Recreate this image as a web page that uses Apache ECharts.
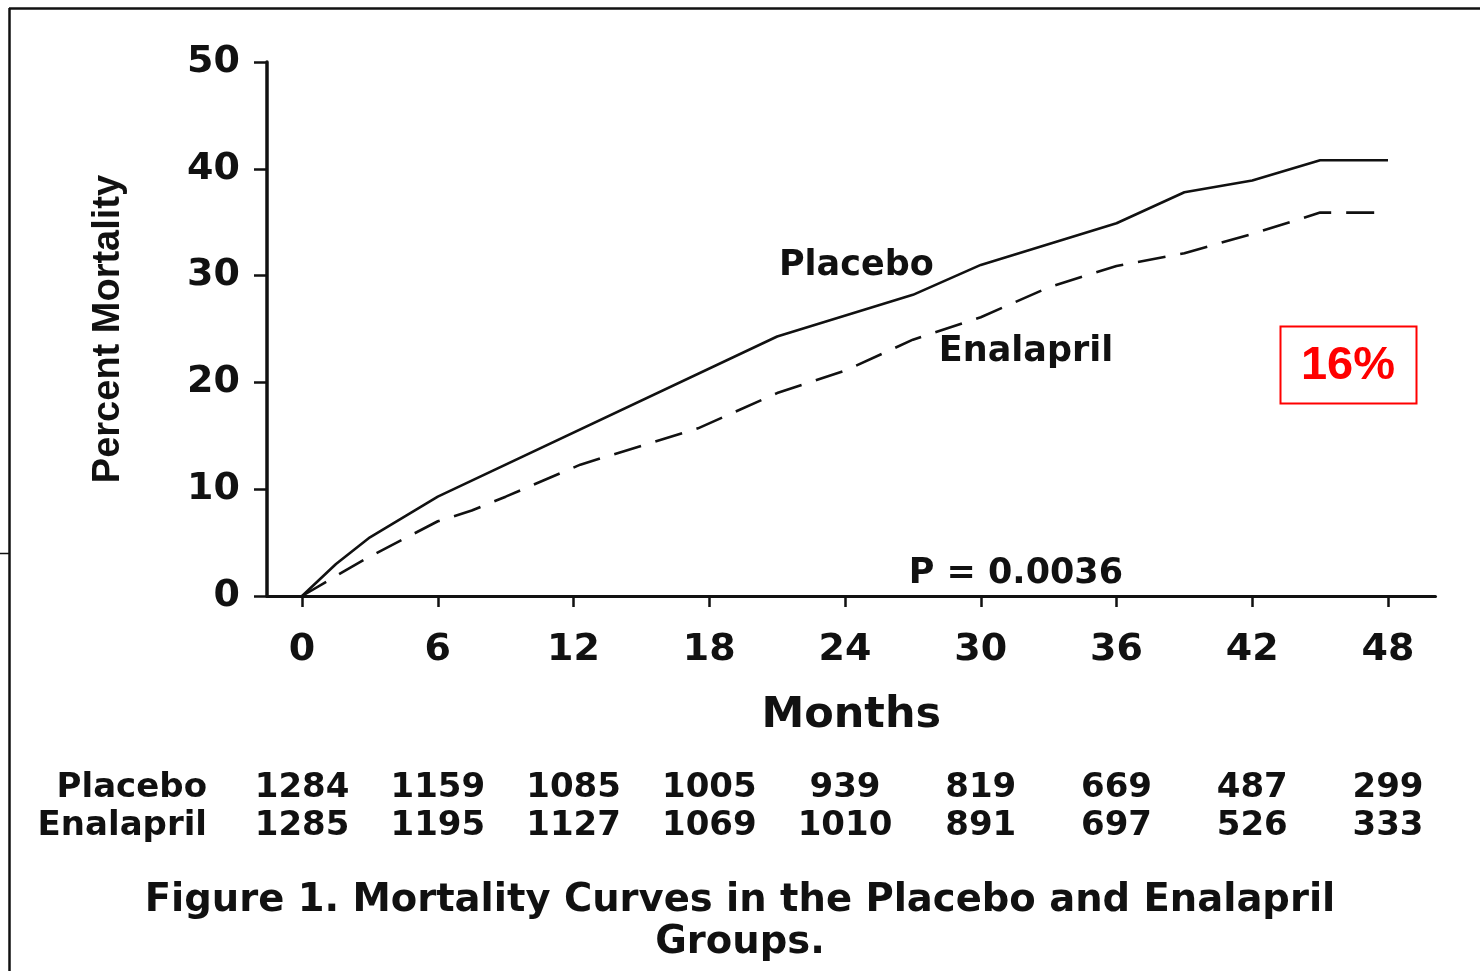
<!DOCTYPE html>
<html>
<head>
<meta charset="utf-8">
<script src="https://cdn.jsdelivr.net/npm/echarts@6/dist/echarts.min.js"></script>
<style>
html,body{margin:0;padding:0;background:#fff;}
#chart{width:1480px;height:971px;}
</style>
</head>
<body>
<div id="chart"></div>
<script>
// ---- data ----
const monthTicks = [0, 6, 12, 18, 24, 30, 36, 42, 48];
const yTicks = [0, 10, 20, 30, 40, 50];
const placeboCurve = [[0,0],[1.5,3.0],[3,5.5],[6,9.3],[21,24.3],[27,28.2],[30,31.0],[36,34.9],[39,37.8],[42,38.9],[45,40.8],[48,40.8]];
const enalaprilCurve = [[0,0],[2,2.5],[3,3.7],[6,7.0],[7.5,8.0],[9,9.3],[12.3,12.3],[17.5,15.7],[21,19.0],[24,21.1],[27,24.0],[30,26.1],[33,28.9],[36,30.9],[39,32.1],[42,33.9],[45,35.9],[48,35.9]];
const placeboAtRisk = [1284, 1159, 1085, 1005, 939, 819, 669, 487, 299];
const enalaprilAtRisk = [1285, 1195, 1127, 1069, 1010, 891, 697, 526, 333];
const curveNotes = [[24.5, 30.9, 'Placebo'], [32.0, 22.9, 'Enalapril'], [31.55, 2.05, 'P = 0.0036']];
const yName = 'Percent Mortality';
const xName = 'Months';
const caption = 'Figure 1. Mortality Curves in the Placebo and Enalapril\nGroups.';
const reductionText = '16%';

// ---- chart ----
const INK = '#111111';
const WIDE = "'DejaVu Sans', Verdana, sans-serif";
const chart = echarts.init(document.getElementById('chart'), null, {renderer: 'canvas'});

function riskAxis(name, counts, offset) {
  return {
    type: 'value', gridIndex: 0, position: 'bottom', offset: offset,
    min: -1.55, max: 50.1,
    axisLine: {show: false, onZero: false}, axisTick: {show: false}, splitLine: {show: false},
    axisLabel: {
      customValues: monthTicks, margin: 0, verticalAlign: 'middle',
      color: INK, fontFamily: WIDE, fontWeight: 'bold', fontSize: 34,
      formatter: v => String(counts[monthTicks.indexOf(v)])
    },
    name: name, nameLocation: 'start', nameGap: 60,
    nameTextStyle: {color: INK, fontFamily: WIDE, fontWeight: 'bold', fontSize: 34, align: 'right', verticalAlign: 'middle'}
  };
}

const option = {
  animation: false,
  backgroundColor: '#ffffff',
  title: {
    text: caption, left: 'center', top: 880, padding: 0,
    textStyle: {color: INK, fontFamily: WIDE, fontWeight: 'bold', fontSize: 38.5, lineHeight: 42}
  },
  grid: {left: 267, top: 62, width: 1168.5, height: 534, containLabel: false},
  xAxis: [
    {
      type: 'value', min: -1.55, max: 50.1,
      axisLine: {show: true, onZero: false, lineStyle: {color: INK, width: 3}},
      axisTick: {show: true, customValues: monthTicks, length: 11, lineStyle: {color: INK, width: 2.5}},
      axisLabel: {customValues: monthTicks, margin: 35, color: INK, fontFamily: WIDE, fontWeight: 'bold', fontSize: 38},
      splitLine: {show: false},
      name: xName, nameLocation: 'middle', nameGap: 98,
      nameTextStyle: {color: INK, fontFamily: WIDE, fontWeight: 'bold', fontSize: 43}
    },
    riskAxis('Placebo', placeboAtRisk, 192),
    riskAxis('Enalapril', enalaprilAtRisk, 230)
  ],
  yAxis: {
    type: 'value', min: 0, max: 50, interval: 10,
    axisLine: {show: true, onZero: false, lineStyle: {color: INK, width: 3.5}},
    axisTick: {show: true, length: 13, lineStyle: {color: INK, width: 2.5}},
    axisLabel: {margin: 27, color: INK, fontFamily: WIDE, fontWeight: 'bold', fontSize: 38,
      formatter: v => (yTicks.indexOf(v) >= 0 ? String(v) : '')},
    splitLine: {show: false},
    name: yName, nameLocation: 'middle', nameRotate: 90, nameGap: 139,
    nameTextStyle: {color: INK, fontFamily: "'Liberation Sans', Arial, sans-serif", fontWeight: 'bold', fontSize: 38}
  },
  series: [
    {
      name: 'Placebo', type: 'line', xAxisIndex: 0, data: placeboCurve,
      showSymbol: false, symbol: 'none', silent: true,
      lineStyle: {color: INK, width: 2.6, type: 'solid'}
    },
    {
      name: 'Enalapril', type: 'line', xAxisIndex: 0, data: enalaprilCurve,
      showSymbol: false, symbol: 'none', silent: true,
      lineStyle: {color: INK, width: 2.6, type: [28, 15]}
    },
    {
      name: 'notes', type: 'scatter', xAxisIndex: 0, data: curveNotes,
      symbolSize: 0, silent: true, itemStyle: {opacity: 1},
      label: {show: true, position: 'inside', formatter: p => p.value[2],
        color: INK, fontFamily: WIDE, fontWeight: 'bold', fontSize: 35}
    }
  ],
  graphic: [
    {type: 'line', shape: {x1: 9, y1: 8.5, x2: 1480, y2: 8.5}, style: {stroke: INK, lineWidth: 2.5}, silent: true},
    {type: 'line', shape: {x1: 9.5, y1: 8, x2: 9.5, y2: 971}, style: {stroke: INK, lineWidth: 2.5}, silent: true},
    {type: 'line', shape: {x1: 0, y1: 553.5, x2: 9, y2: 553.5}, style: {stroke: INK, lineWidth: 1.5}, silent: true},
    {type: 'rect', shape: {x: 1280.5, y: 326.5, width: 136, height: 77}, style: {fill: 'none', stroke: '#ff0000', lineWidth: 2}, silent: true},
    {type: 'text', x: 1348, y: 366, style: {text: reductionText, fill: '#ff0000', font: "bold 47px 'Liberation Sans', Arial, sans-serif", textAlign: 'center', textVerticalAlign: 'middle'}, silent: true}
  ]
};
chart.setOption(option);
</script>
</body>
</html>
